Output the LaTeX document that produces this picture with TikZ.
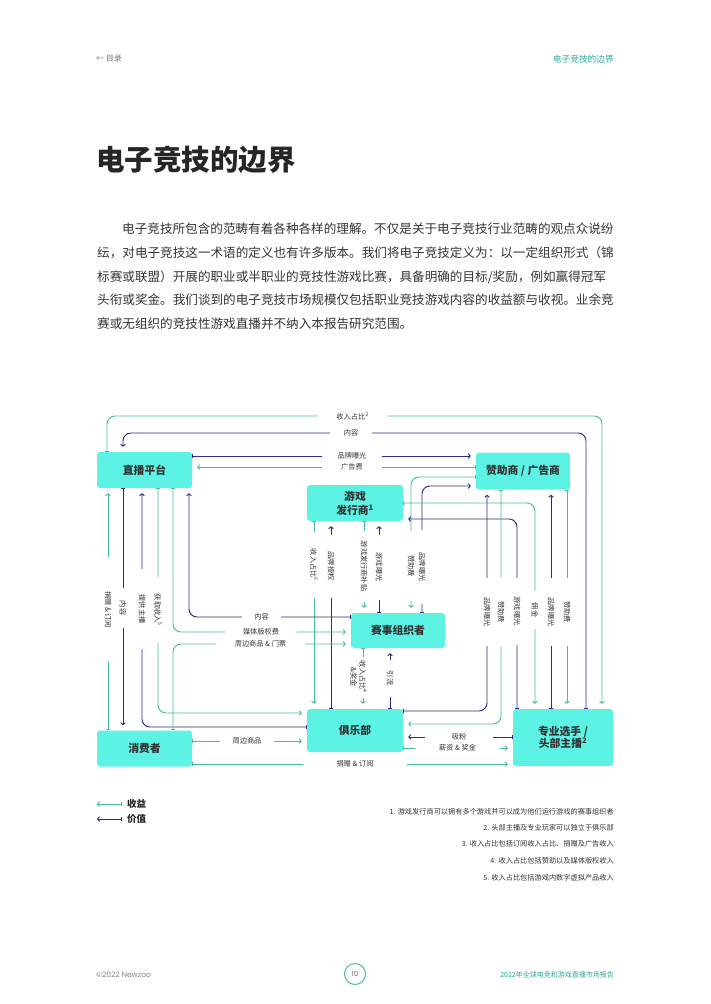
\documentclass[tikz,border=0pt]{standalone}
\usepackage{fontspec}
\setmainfont{Noto Sans CJK SC}
\newfontfamily\poppins{Poppins}
\usetikzlibrary{arrows.meta}
\definecolor{boxcyan}{HTML}{5CF2E4}
\definecolor{revteal}{HTML}{45BBA5}
\definecolor{valnavy}{HTML}{2D2A8E}
\definecolor{headteal}{HTML}{2BA69A}
\definecolor{txtgray}{HTML}{333333}
\newcommand{\setfs}[2]{\fontsize{#1}{#2}\selectfont}

\begin{document}
\begin{tikzpicture}[x=1pt,y=-1pt,
  every node/.style={inner sep=0pt},
  box/.style={fill=boxcyan, rounded corners=3pt, font=\setfs{10.8}{14}\bfseries, text=black!80, align=center},
  rev/.style={draw=revteal, line width=0.95pt, rounded corners=8pt, {Bar[width=4pt]}-{Straight Barb[length=2pt,width=4.8pt]}, shorten >=5pt},
  val/.style={rev, draw=valnavy},
  lbl/.style={fill=white, font=\setfs{7.2}{9}, text=txtgray, inner ysep=1pt, minimum height=8pt},
  vlbl/.style={lbl, rotate=-90}]
  \useasboundingbox (0,0) rectangle (710,1004);
  \node[anchor=west, font=\setfs{8}{10}, text=black!55] (back) at (96,59) {← 目录};
  \node[anchor=east, font=\setfs{8.7}{10}, text=headteal] (sec) at (614,59) {电子竞技的边界};
  \node[anchor=west, font=\setfs{28.5}{30}\bfseries, text=black!85] (title) at (96,160) {电子竞技的边界};
  \node[anchor=west, font=\setfs{12.6}{14}, text=txtgray] (p1) at (122,229) {电子竞技所包含的范畴有着各种各样的理解。不仅是关于电子竞技行业范畴的观点众说纷};
  \node[anchor=west, font=\setfs{12.6}{14}, text=txtgray] (p2) at (97,253) {纭，对电子竞技这一术语的定义也有许多版本。我们将电子竞技定义为：以一定组织形式（锦};
  \node[anchor=west, font=\setfs{12.6}{14}, text=txtgray] (p3) at (97,277) {标赛或联盟）开展的职业或半职业的竞技性游戏比赛，具备明确的目标/奖励，例如赢得冠军};
  \node[anchor=west, font=\setfs{12.6}{14}, text=txtgray] (p4) at (97,300) {头衔或奖金。我们谈到的电子竞技市场规模仅包括职业竞技游戏内容的收益额与收视。业余竞};
  \node[anchor=west, font=\setfs{12.6}{14}, text=txtgray] (p5) at (97,324) {赛或无组织的竞技性游戏直播并不纳入本报告研究范围。};

  \node[box, minimum width=95pt, minimum height=36pt] (live) at (144.5,470) {直播平台};
  \node[box, minimum width=94pt, minimum height=37pt] (spon) at (523,471) {赞助商 / 广告商};
  \node[box, minimum width=96pt, minimum height=36pt] (pub) at (355,503) {游戏\\发行商\textsuperscript{1}};
  \node[box, minimum width=94pt, minimum height=35pt] (org) at (398,630.5) {赛事组织者};
  \node[box, minimum width=96pt, minimum height=43pt] (club) at (355,730.5) {俱乐部};
  \node[box, minimum width=95pt, minimum height=36pt] (cons) at (144.5,748.5) {消费者};
  \node[box, minimum width=100pt, minimum height=57pt, font=\setfs{10.8}{12.5}\bfseries] (pro) at (563,737.5) {专业选手 /\\头部主播\textsuperscript{2}};

  \draw[rev] (live.north -| 107,0) |- (602,416) -- (pro.north -| 602,0);
  \draw[val] (pro.north -| 586,0) |- (123,433) -- (live.north -| 123,0);
  \draw[val] (live.east |- 0,456) -- (spon.west |- 0,456);
  \draw[rev] (spon.west |- 0,467) -- (live.east |- 0,467);
  \draw[rev] (spon.west |- 0,477) -| (org.north -| 411,0);
  \draw[val] (org.north -| 422,0) |- (spon.west |- 0,486);
  \draw[rev] (pub.east |- 0,503) -| (pro.north -| 535,0);
  \draw[val] (pro.north -| 517,0) |- (pub.east |- 0,519);
  \draw[val] (club.east |- 0,711) -| (spon.south -| 487,0);
  \draw[rev] (spon.south -| 501,0) |- (club.east |- 0,724);
  \draw[val] (pro.north -| 551,0) -- (spon.south -| 551,0);
  \draw[rev] (spon.south -| 567,0) -- (pro.north -| 567,0);
  \draw[rev] (pub.south -| 314,0) -- (club.north -| 314,0);
  \draw[val] (club.north -| 331,0) -- (pub.south -| 331,0);
  \draw[rev] (pub.south -| 364,0) -- (org.north -| 364,0);
  \draw[val] (org.north -| 379,0) -- (pub.south -| 379,0);
  \draw[rev] (org.south -| 363,0) -- (club.north -| 363,0);
  \draw[val] (club.north -| 390,0) -- (org.south -| 390,0);
  \draw[rev] (cons.north -| 108,0) -- (live.south -| 108,0);
  \draw[val] (live.south -| 123,0) -- (cons.north -| 123,0);
  \draw[val] (club.west |- 0,727) -| (live.south -| 142,0);
  \draw[rev] (live.south -| 158,0) |- (club.west |- 0,713);
  \draw[rev] (live.south -| 173,0) |- (org.west |- 0,632);
  \draw[val] (org.west |- 0,617) -| (live.south -| 189,0);
  \draw[rev] (cons.north -| 173,0) |- (org.west |- 0,644);
  \draw[rev] (cons.east |- 0,741) -- (club.west |- 0,741);
  \draw[rev] (cons.east |- 0,764) -- (pro.west |- 0,764);
  \draw[val] (pro.west |- 0,737) -- (club.east |- 0,737);
  \draw[rev] (club.east |- 0,748) -- (pro.west |- 0,748);

  \node[lbl, minimum width=69pt] (l1) at (352.5,416) {收入占比\textsuperscript{3}};
  \node[lbl, minimum width=42pt] (l2) at (351,433) {内容};
  \node[lbl, minimum width=60pt] (l3) at (352,456) {品牌曝光};
  \node[lbl, minimum width=60pt] (l4) at (352,467) {广告费};
  \node[vlbl, minimum width=70pt] (l5) at (411,566) {赞助费};
  \node[vlbl, minimum width=74pt] (l6) at (422,567) {品牌曝光};
  \node[vlbl, minimum width=38pt] (l7) at (535,610) {佣金};
  \node[vlbl, minimum width=67pt] (l8) at (517,611) {游戏曝光};
  \node[vlbl, minimum width=68pt] (l9) at (487,612) {品牌曝光};
  \node[vlbl, minimum width=70pt] (l10) at (501,612) {赞助费};
  \node[vlbl, minimum width=68pt] (l11) at (551,612) {品牌曝光};
  \node[vlbl, minimum width=68pt] (l12) at (567,612) {赞助费};
  \node[vlbl, minimum width=66pt] (l13) at (314,565) {收入占比\textsuperscript{5}};
  \node[vlbl, minimum width=63pt] (l14) at (331,566) {品牌授权};
  \node[vlbl, minimum width=71pt] (l15) at (364,566) {游戏发行商补贴};
  \node[vlbl, minimum width=65pt] (l16) at (379,567) {游戏曝光};
  \node[vlbl, minimum width=41pt, align=center] (l17) at (358.5,677) {收入占比\textsuperscript{4}\\\&奖金};
  \node[vlbl, minimum width=37pt] (l18) at (390,678) {引流};
  \node[vlbl, minimum width=105pt] (l19) at (108,609.5) {捐赠 \& 订阅};
  \node[vlbl, minimum width=40pt] (l20) at (123,608) {内容};
  \node[vlbl, minimum width=80pt] (l21) at (142,609) {提供主播};
  \node[vlbl, minimum width=66pt] (l22) at (158,610) {获取收入\textsuperscript{5}};
  \node[lbl, minimum width=72pt] (l23) at (261,632) {媒体版权费};
  \node[lbl, minimum width=39pt] (l24) at (261.5,617) {内容};
  \node[lbl, minimum width=89pt] (l25) at (260.5,644) {周边商品 \& 门票};
  \node[lbl, minimum width=54pt] (l26) at (247,741) {周边商品};
  \node[lbl, minimum width=104pt] (l27) at (355,764) {捐赠 \& 订阅};
  \node[lbl, minimum width=68pt] (l28) at (459,737) {吸粉};
  \node[lbl, minimum width=85pt] (l29) at (457.5,748) {薪资 \& 奖金};

  \coordinate (lg1a) at (97,804);
  \coordinate (lg1b) at (122,804);
  \draw[rev, shorten >=0pt] (lg1b) -- (lg1a);
  \node[anchor=west, font=\setfs{9.5}{10}\bfseries, text=black!85] (lg1) at (127,804) {收益};
  \coordinate (lg2a) at (97,819);
  \coordinate (lg2b) at (122,819);
  \draw[val, shorten >=0pt] (lg2b) -- (lg2a);
  \node[anchor=west, font=\setfs{9.5}{10}\bfseries, text=black!85] (lg2) at (127,819) {价值};

  \node[anchor=east, font=\setfs{7.2}{8}, text=txtgray] (fn1) at (614,812) {1. 游戏发行商可以拥有多个游戏并可以成为他们运行游戏的赛事组织者};
  \node[anchor=east, font=\setfs{7.2}{8}, text=txtgray] (fn2) at (614,828) {2. 头部主播及专业玩家可以独立于俱乐部};
  \node[anchor=east, font=\setfs{7.2}{8}, text=txtgray] (fn3) at (614,844) {3. 收入占比包括订阅收入占比、捐赠及广告收入};
  \node[anchor=east, font=\setfs{7.2}{8}, text=txtgray] (fn4) at (614,861) {4. 收入占比包括赞助以及媒体版权收入};
  \node[anchor=east, font=\setfs{7.2}{8}, text=txtgray] (fn5) at (614,878) {5. 收入占比包括游戏内数字虚拟产品收入};

  \node[anchor=west, font=\poppins\setfs{7.5}{8}, text=black!50] (copy) at (96,975) {©2022 Newzoo};
  \node[circle, draw=revteal, line width=1pt, minimum size=21pt, font=\poppins\setfs{7}{8}, text=black!60] (page) at (355,974) {10};
  \node[anchor=east, font=\setfs{7}{8}, text=headteal] (rep) at (614,975) {2022年全球电竞和游戏直播市场报告};
\end{tikzpicture}
\end{document}
